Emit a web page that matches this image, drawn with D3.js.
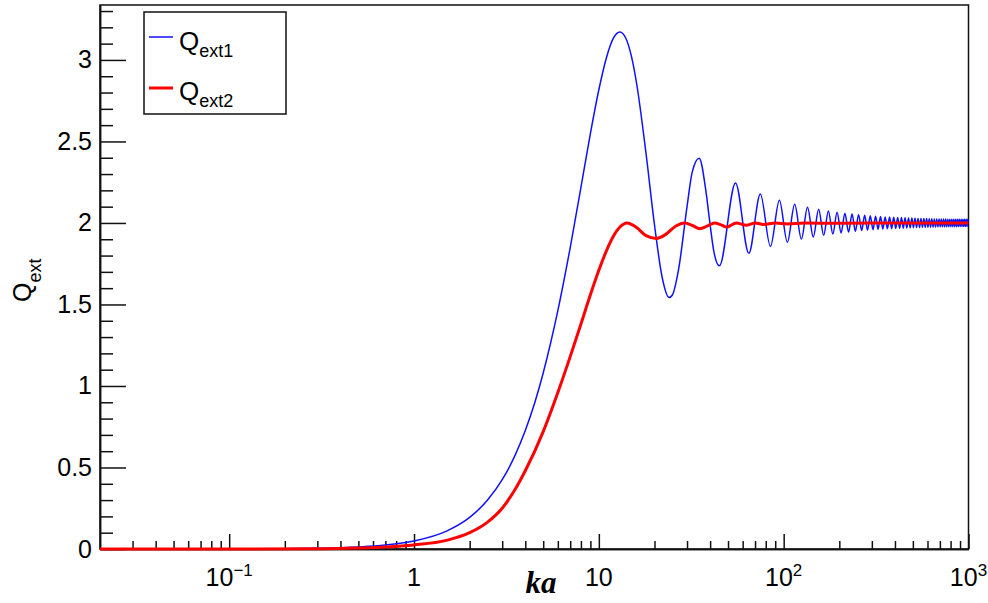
<!DOCTYPE html>
<html>
<head>
<meta charset="utf-8">
<script src="https://cdn.jsdelivr.net/npm/d3@7"></script>
<style>
  html, body { margin: 0; padding: 0; background: #fff; }
  svg { display: block; }
  text { font-family: "Liberation Sans", Arial, sans-serif; fill: #000; }
</style>
</head>
<body>
<svg id="chart" width="988" height="603"></svg>
<script>
// ---------------- data ----------------
const xDomain = [0.02, 1000];
const yDomain = [0, 3.337];

const xMajorTicks = [0.1, 1, 10, 100, 1000];
const xTickBase = ["10", "1", "10", "10", "10"];
const xTickExp  = ["\u22121", "", "", "2", "3"];
const yMajorTicks = [0, 0.5, 1, 1.5, 2, 2.5, 3];
const yTickLabels = ["0", "0.5", "1", "1.5", "2", "2.5", "3"];

const seriesNames = ["ext1", "ext2"];
const seriesColors = ["#1010ff", "#ff0000"];

// Q_ext1 (blue)
const kaBlue = [0.02, 0.05, 0.1, 0.2, 0.3, 0.5, 0.7, 1, 1.5, 2, 2.5, 3, 3.5, 4, 4.5, 5, 6, 7, 8, 9, 10, 11, 12, 13, 14, 15, 16, 18, 20, 22, 24, 25, 27, 30, 32, 34.9, 38, 40, 42,
  44.9, 54.9, 64.8, 74.8, 84.8, 94.8, 104.7, 114.7, 124.7, 134.6, 144.6, 154.6, 164.6, 174.5, 184.5, 194.5,
  204.5, 214.4, 224.4, 234.4, 244.3, 254.3, 264.3, 274.3, 284.2, 294.2, 304.2, 314.2, 324.1, 334.1, 344.1, 354.1,
  364.0, 374.0, 384.0, 393.9, 403.9, 413.9, 423.9, 433.8, 443.8, 453.8, 463.7, 473.7, 483.7, 493.7, 503.7, 513.6,
  523.6, 533.6, 543.5, 553.5, 563.5, 573.5, 583.4, 593.4, 603.4, 613.4, 623.3, 633.3, 643.3, 653.3, 663.2, 673.2,
  683.2, 693.1, 703.1, 713.1, 723.1, 733.0, 743.0, 753.0, 763.0, 772.9, 782.9, 792.9, 802.9, 812.8, 822.8, 832.8,
  842.7, 852.7, 862.7, 872.7, 882.6, 892.6, 902.6, 912.6, 922.5, 932.5, 942.5, 952.5, 962.4, 972.4, 982.4, 992.3, 1000];
const qBlue = [0.00002, 0.00012, 0.0005, 0.002, 0.0045, 0.0124, 0.0242, 0.0495, 0.110, 0.194, 0.300, 0.425, 0.568, 0.727, 0.897, 1.080, 1.462, 1.849, 2.218, 2.548, 2.817, 3.015, 3.135, 3.172, 3.133, 3.023, 2.857, 2.426, 1.989, 1.667, 1.543, 1.558, 1.715, 2.100, 2.312, 2.397, 2.191, 1.989, 1.819,
  1.737, 2.245, 1.814, 2.177, 1.856, 2.139, 1.882, 2.114, 1.901, 2.097, 1.914, 2.084, 1.924, 2.074, 1.932, 2.066,
  1.939, 2.060, 1.944, 2.055, 1.949, 2.051, 1.953, 2.047, 1.956, 2.044, 1.959, 2.041, 1.961, 2.039, 1.963, 2.037,
  1.964, 2.036, 1.965, 2.035, 1.966, 2.034, 1.967, 2.033, 1.968, 2.032, 1.969, 2.031, 1.970, 2.030, 1.971, 2.029,
  1.972, 2.028, 1.972, 2.028, 1.973, 2.027, 1.973, 2.027, 1.974, 2.026, 1.974, 2.026, 1.975, 2.025, 1.975, 2.025,
  1.976, 2.024, 1.976, 2.024, 1.976, 2.024, 1.977, 2.024, 1.977, 2.023, 1.977, 2.023, 1.977, 2.023, 1.977, 2.023,
  1.977, 2.023, 1.977, 2.023, 1.978, 2.022, 1.978, 2.022, 1.978, 2.022, 1.978, 2.022, 1.978, 2.022, 1.978, 2.022, 2.0];

// Q_ext2 (red)
const kaRed = [0.02, 0.1, 0.3, 0.5, 0.7, 1, 1.5, 2, 2.5, 3, 3.5, 4, 5, 6, 7, 8, 9, 10, 11, 12, 13, 14.2, 16, 18, 20.5, 23, 26, 29.2, 32, 35.2, 38.5, 42.3, 45.5, 49.2, 55.4, 63, 70, 78, 90, 105, 130, 200, 400, 1000];
const qRed  = [0.000005, 0.0001, 0.001, 0.006, 0.012, 0.025, 0.053, 0.100, 0.165, 0.250, 0.360, 0.480, 0.720, 0.960, 1.180, 1.380, 1.560, 1.710, 1.830, 1.920, 1.975, 2.000, 1.972, 1.922, 1.905, 1.930, 1.980, 2.000, 1.985, 1.964, 1.980, 2.000, 1.990, 1.975, 2.000, 1.986, 1.999, 1.991, 1.999, 1.994, 1.999, 1.998, 2.0, 2.0];

// ---------------- drawing ----------------
const svg = d3.select("#chart");
const L = 100, R = 968.5, T = 5, B = 549;

const x = d3.scaleLog().domain(xDomain).range([L, R]);
const y = d3.scaleLinear().domain(yDomain).range([B, T]);

// minor tick values built from the scale domain
const xMinor = [];
for (let e = -2; e <= 2; e++) for (let m = 2; m <= 9; m++) {
  const v = m * Math.pow(10, e);
  if (v > xDomain[0] && v < xDomain[1]) xMinor.push(v);
}
const yMinor = d3.range(0, 34).map(i => +(i * 0.1).toFixed(1)).filter(v => v <= yDomain[1] && Math.abs(v * 2 - Math.round(v * 2)) > 1e-6);

// frame
svg.append("rect").attr("x", L).attr("y", T).attr("width", R - L).attr("height", B - T)
  .attr("fill", "none").attr("stroke", "#111").attr("stroke-width", 1.5);

// x axis ticks
const gx = svg.append("g").attr("transform", `translate(0,${B})`);
gx.append("g").call(d3.axisBottom(x).tickValues(xMajorTicks).tickSize(-15).tickSizeOuter(0).tickFormat(""));
gx.append("g").call(d3.axisBottom(x).tickValues(xMinor).tickSize(-8).tickSizeOuter(0).tickFormat(""));
gx.selectAll("path.domain").attr("stroke", "#111").attr("stroke-width", 1.5);
gx.selectAll(".tick line").attr("stroke", "#111").attr("stroke-width", 1.5);

// x tick labels (with superscripts)
xMajorTicks.forEach((v, i) => {
  const t = svg.append("text").attr("x", x(v)).attr("y", 586)
    .attr("text-anchor", "middle").style("font-size", "25px");
  t.append("tspan").text(xTickBase[i]);
  if (xTickExp[i]) t.append("tspan").attr("dy", -10).style("font-size", "17px").text(xTickExp[i]);
});

// y axis
const gy = svg.append("g").attr("transform", `translate(${L},0)`);
gy.append("g").call(d3.axisLeft(y).tickValues(yMajorTicks).tickSize(-26).tickSizeOuter(0).tickPadding(8)
  .tickFormat((d, i) => yTickLabels[i]));
gy.append("g").call(d3.axisLeft(y).tickValues(yMinor).tickSize(-13).tickSizeOuter(0).tickFormat(""));
gy.selectAll("path.domain").attr("stroke", "#111").attr("stroke-width", 1.5);
gy.selectAll(".tick line").attr("stroke", "#111").attr("stroke-width", 1.5);
gy.selectAll(".tick text").style("font-size", "25px").style("font-family", "'Liberation Sans', Arial, sans-serif").attr("fill", "#000");

// axis titles
svg.append("text").attr("x", 541).attr("y", 593).attr("text-anchor", "middle")
  .style("font-family", "'Liberation Serif', 'Times New Roman', serif")
  .style("font-weight", "bold").style("font-style", "italic").style("font-size", "31px").text("ka");

const yl = svg.append("text").attr("transform", "translate(31,302) rotate(-90)").attr("text-anchor", "start")
  .style("font-size", "25px");
yl.append("tspan").text("Q");
yl.append("tspan").attr("dy", 10).style("font-size", "18px").text("ext");

// curves
svg.append("clipPath").attr("id", "clip").append("rect")
  .attr("x", L).attr("y", T).attr("width", R - L).attr("height", B - T + 2);

const line = d3.line().x(d => x(d[0])).y(d => y(d[1])).curve(d3.curveMonotoneX);
const blueData = d3.zip(kaBlue, qBlue);
const redData = d3.zip(kaRed, qRed);

const gc = svg.append("g").attr("clip-path", "url(#clip)");
gc.append("path").datum(blueData).attr("d", line).attr("fill", "none")
  .attr("stroke", seriesColors[0]).attr("stroke-width", 1.5);
gc.append("path").datum(redData).attr("d", line).attr("fill", "none")
  .attr("stroke", seriesColors[1]).attr("stroke-width", 3);

// legend
const lg = svg.append("g");
lg.append("rect").attr("x", 144).attr("y", 12).attr("width", 142).attr("height", 102)
  .attr("fill", "#fff").attr("stroke", "#111").attr("stroke-width", 1.5);
const rowsY = [37, 88];
const baseY = [49.5, 99.5];
seriesNames.forEach((n, i) => {
  lg.append("line").attr("x1", 149).attr("x2", 173).attr("y1", rowsY[i]).attr("y2", rowsY[i])
    .attr("stroke", seriesColors[i]).attr("stroke-width", i === 0 ? 1.5 : 3);
  const t = lg.append("text").attr("x", 179).attr("y", baseY[i]).style("font-size", "26px");
  t.append("tspan").text("Q");
  t.append("tspan").attr("dy", 7).style("font-size", "18px").text(n);
});
</script>
</body>
</html>
